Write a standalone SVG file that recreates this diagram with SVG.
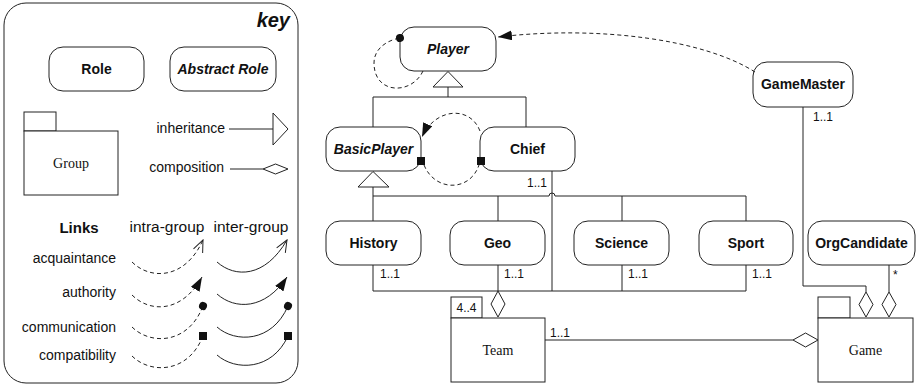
<svg xmlns="http://www.w3.org/2000/svg" width="917" height="386" viewBox="0 0 917 386">
<defs>
<style>
.frame{fill:#fff;stroke:#222;stroke-width:1}
.role{fill:#fff;stroke:#222;stroke-width:1}
.grp{fill:#fff;stroke:#222;stroke-width:1}
.ln{fill:none;stroke:#222;stroke-width:1}
.dash{fill:none;stroke:#222;stroke-width:1;stroke-dasharray:4,3}
.tri{fill:#fff;stroke:#222;stroke-width:1}
.t{font-family:"Liberation Sans",Arial,sans-serif;fill:#111}
.rn{font-family:"Liberation Sans",Arial,sans-serif;font-weight:bold;font-size:14px;fill:#111;text-anchor:middle}
.ra{font-family:"Liberation Sans",Arial,sans-serif;font-weight:bold;font-style:italic;font-size:14px;fill:#111;text-anchor:middle}
.gn{font-family:"Liberation Serif","Times New Roman",serif;font-size:14px;fill:#111;text-anchor:middle}
.m{font-family:"Liberation Sans",Arial,sans-serif;font-size:12px;fill:#111}
.k{font-family:"Liberation Sans",Arial,sans-serif;font-size:14px;fill:#111;text-anchor:end}
</style>
<marker id="afill" markerUnits="userSpaceOnUse" markerWidth="14" markerHeight="10" viewBox="0 0 14 10" refX="14" refY="5" orient="auto">
<path d="M0,0 L14,5 L0,10 z" fill="#111" stroke="none"/>
</marker>
<marker id="aopen" markerUnits="userSpaceOnUse" markerWidth="14" markerHeight="12" viewBox="0 0 14 12" refX="13" refY="6" orient="auto">
<path d="M1,1 L13,6 L1,11" fill="none" stroke="#222" stroke-width="1"/>
</marker>
<marker id="dot" markerUnits="userSpaceOnUse" markerWidth="10" markerHeight="10" viewBox="0 0 10 10" refX="5" refY="5" orient="auto">
<circle cx="5" cy="5" r="4" fill="#111"/>
</marker>
<marker id="sq" markerUnits="userSpaceOnUse" markerWidth="10" markerHeight="10" viewBox="0 0 10 10" refX="5" refY="5">
<rect x="1" y="1" width="8" height="8" fill="#111"/>
</marker>
</defs>

<rect width="917" height="386" fill="#fff"/>

<!-- KEY -->
<g id="key">
<rect class="frame" x="4" y="3" width="294" height="380" rx="22"/>
<text class="t" x="290" y="27" font-size="20" font-weight="bold" font-style="italic" text-anchor="end">key</text>
<g id="key-role">
<rect class="role" x="49" y="47" width="95" height="44" rx="14"/>
<text class="rn" x="96.5" y="74">Role</text>
</g>
<g id="key-abstract-role">
<rect class="role" x="170" y="47" width="106" height="44" rx="14"/>
<text class="ra" x="223" y="74">Abstract Role</text>
</g>
<g id="key-group">
<rect class="grp" x="24" y="112" width="32" height="19"/>
<rect class="grp" x="24" y="131" width="94" height="64"/>
<text class="gn" x="71" y="168">Group</text>
</g>
<text class="k" x="225" y="133">inheritance</text>
<path class="ln" d="M229,129 H273"/>
<polygon class="tri" points="273,113 288,129 273,145"/>
<text class="k" x="224" y="172">composition</text>
<path class="ln" d="M230,169 H263"/>
<polygon class="tri" points="263,169 275.5,164 288,169 275.5,174"/>

<text class="t" x="79" y="233" font-size="15" font-weight="bold" text-anchor="middle">Links</text>
<text class="t" x="167" y="232" font-size="15.5" text-anchor="middle">intra-group</text>
<text class="t" x="251" y="232" font-size="15.5" text-anchor="middle">inter-group</text>
<text class="k" x="116" y="263">acquaintance</text>
<text class="k" x="116" y="297">authority</text>
<text class="k" x="116" y="332">communication</text>
<text class="k" x="116" y="360">compatibility</text>

<path class="dash" d="M132,262 C150,280 185,280 203,240" marker-end="url(#aopen)"/>
<path class="ln" d="M217,262 C235,278 265,278 287,240" marker-end="url(#aopen)"/>
<path class="dash" d="M132,295 C150,313 182,313 202,277" marker-end="url(#afill)"/>
<path class="ln" d="M217,294 C235,310 265,310 287,277" marker-end="url(#afill)"/>
<path class="dash" d="M132,327 C150,345 188,345 203,306" marker-end="url(#dot)"/>
<path class="ln" d="M217,327 C235,343 272,343 288,306" marker-end="url(#dot)"/>
<path class="dash" d="M132,356 C150,374 188,374 203,336" marker-end="url(#sq)"/>
<path class="ln" d="M217,355 C235,371 272,371 288,336" marker-end="url(#sq)"/>
</g>

<!-- NODES -->
<g id="Player">
<rect class="role" x="400" y="27" width="96" height="44" rx="14"/>
<text class="ra" x="448" y="54">Player</text>
</g>
<g id="BasicPlayer">
<rect class="role" x="326" y="127" width="95" height="44" rx="14"/>
<text class="ra" x="373.5" y="154">BasicPlayer</text>
</g>
<g id="Chief">
<rect class="role" x="480" y="127" width="95" height="44" rx="14"/>
<text class="rn" x="527.5" y="154">Chief</text>
</g>
<g id="GameMaster">
<rect class="role" x="753" y="62" width="100" height="45" rx="14"/>
<text class="rn" x="803" y="89">GameMaster</text>
</g>
<g id="History">
<rect class="role" x="326" y="221" width="95" height="44" rx="14"/>
<text class="rn" x="373.5" y="248">History</text>
</g>
<g id="Geo">
<rect class="role" x="450" y="221" width="95" height="44" rx="14"/>
<text class="rn" x="497.5" y="248">Geo</text>
</g>
<g id="Science">
<rect class="role" x="574" y="221" width="95" height="44" rx="14"/>
<text class="rn" x="621.5" y="248">Science</text>
</g>
<g id="Sport">
<rect class="role" x="699" y="221" width="94" height="44" rx="14"/>
<text class="rn" x="746" y="248">Sport</text>
</g>
<g id="OrgCandidate">
<rect class="role" x="808" y="221" width="107" height="44" rx="14"/>
<text class="rn" x="861.5" y="248">OrgCandidate</text>
</g>
<g id="Team">
<rect class="grp" x="451" y="297" width="31" height="21"/>
<rect class="grp" x="451" y="318" width="94" height="64"/>
<text class="m" x="466.5" y="312" font-size="13" text-anchor="middle">4..4</text>
<text class="gn" x="498" y="355">Team</text>
</g>
<g id="Game">
<rect class="grp" x="818" y="297" width="32" height="21"/>
<rect class="grp" x="818" y="318" width="95" height="64"/>
<text class="gn" x="865.5" y="355">Game</text>
</g>

<!-- CONNECTORS -->
<g id="connectors">
<!-- Player inheritance -->
<path class="ln" d="M448,87 V97 M373,97 H526 M373,97 V127 M526,97 V127"/>
<polygon class="tri" points="448,71.5 463,87 433,87"/>
<!-- BasicPlayer inheritance -->
<path class="ln" d="M373,187 V196 M373,196 H549 A3,3 0 0 1 555,196 H746 M373,196 V221 M498,196 V221 M622,196 V221 M746,196 V221"/>
<polygon class="tri" points="373,171.5 389,187 358,187"/>
<!-- Chief / roles to Team -->
<path class="ln" d="M552,171 V291 M373,265 V291 H746 M498,265 V291 M622,265 V291 M746,265 V291"/>
<polygon class="tri" points="498,291 505,304 498,317 491,304"/>
<!-- Team to Game -->
<path class="ln" d="M545,340 H793"/>
<polygon class="tri" points="793,340 805.5,333 818,340 805.5,347"/>
<!-- GameMaster to Game -->
<path class="ln" d="M803,107 V286 H866 V292"/>
<polygon class="tri" points="866,292 873,304.5 866,317 859,304.5"/>
<!-- OrgCandidate to Game -->
<path class="ln" d="M889,265 V292"/>
<polygon class="tri" points="889,292 896,304.5 889,317 882,304.5"/>
<!-- multiplicities -->
<text class="m" x="547" y="187" text-anchor="end">1..1</text>
<text class="m" x="813" y="121">1..1</text>
<text class="m" x="380" y="278">1..1</text>
<text class="m" x="504" y="278">1..1</text>
<text class="m" x="628" y="278">1..1</text>
<text class="m" x="752" y="278">1..1</text>
<text class="m" x="893" y="279">*</text>
<text class="m" x="550" y="337">1..1</text>
<!-- dashed links -->
<path class="dash" d="M755,72 C705,40 600,25 498,37" marker-end="url(#afill)"/>
<path class="dash" d="M423,71 C412,95 374,95 374,63 C374,48 388,40 400,38" marker-end="url(#dot)"/>
<path class="dash" d="M480,131 C470,105 435,108 422,137" marker-end="url(#afill)"/>
<path class="dash" d="M424,165 C435,192 470,192 479,165"/>
<rect x="417" y="157" width="8" height="8" fill="#111"/>
<rect x="477" y="157" width="8" height="8" fill="#111"/>
</g>
</svg>
